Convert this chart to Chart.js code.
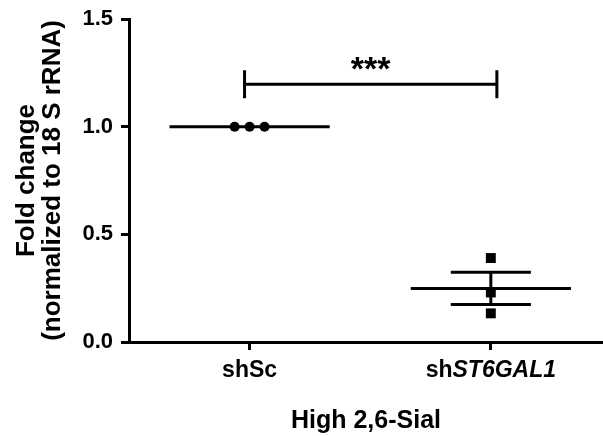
<!DOCTYPE html>
<html><head><meta charset="utf-8">
<script src="https://cdn.jsdelivr.net/npm/chart.js@4/dist/chart.umd.min.js"></script>
<style>html,body{margin:0;padding:0;background:#fff}</style>
</head><body>
<canvas id="c" width="603" height="436"></canvas>
<script>
// ---- data ----
const categories = ['shSc', 'shST6GAL1'];
const categoryPlainPart = ['shSc', 'sh'];
const categoryItalicPart = ['', 'ST6GAL1'];
const categoryPos = [1, 2];
const shScX = [0.938, 1.0, 1.062];
const shScY = [1.0, 1.0, 1.0];
const shST6X = [2, 2, 2];
const shST6Y = [0.39, 0.23, 0.133];
const groupMean = [1.0, 0.249];
const groupSEM = [0.0, 0.075];
const yTicks = [0, 0.5, 1.0, 1.5];
const bracketEnds = [0.979, 2.025];
const bracketLevel = [1.197];
const sigLabel = '***';
const yTitle = ['Fold change', '(normalized to 18 S rRNA)'];
const xTitle = 'High 2,6-Sial';

// ---- styles ----
const FONT = "'Liberation Sans', Arial, Helvetica, sans-serif";
const MEAN_HALF = 0.332, SEM_HALF = 0.166, BRACKET_CAP = 0.065;
const lineDs = (pts) => ({type:'scatter', data:pts, showLine:true, pointRadius:0, pointHoverRadius:0,
  borderColor:'#000', borderWidth:3, borderCapStyle:'butt', fill:false});

const datasets = [
  {type:'scatter', label:'shSc', data: shScX.map((x,i)=>({x, y:shScY[i]})), pointStyle:'circle',
   pointRadius:5, pointBorderWidth:0, backgroundColor:'#000', borderColor:'#000'},
  {type:'scatter', label:'shST6GAL1', data: shST6X.map((x,i)=>({x, y:shST6Y[i]})), pointStyle:'rect',
   pointRadius:7, pointBorderWidth:0, backgroundColor:'#000', borderColor:'#000'}
];
categoryPos.forEach((c,i)=>{
  const m = groupMean[i], s = groupSEM[i];
  datasets.push(lineDs([{x:c-MEAN_HALF,y:m},{x:c+MEAN_HALF,y:m}]));
  if (s > 0) {
    datasets.push(lineDs([{x:c-SEM_HALF,y:m+s},{x:c+SEM_HALF,y:m+s}]));
    datasets.push(lineDs([{x:c-SEM_HALF,y:m-s},{x:c+SEM_HALF,y:m-s}]));
    datasets.push(lineDs([{x:c,y:m-s},{x:c,y:m+s}]));
  }
});
datasets.push(lineDs([{x:bracketEnds[0],y:bracketLevel[0]},{x:bracketEnds[1],y:bracketLevel[0]}]));
bracketEnds.forEach(b=>datasets.push(lineDs([{x:b,y:bracketLevel[0]-BRACKET_CAP},{x:b,y:bracketLevel[0]+BRACKET_CAP}])));

const labelPlugin = {
  id:'labels',
  afterDraw(chart){
    const ctx = chart.ctx, xs = chart.scales.x, ys = chart.scales.y;
    ctx.save();
    ctx.fillStyle = '#000';
    ctx.textBaseline = 'alphabetic';
    ctx.textAlign = 'left';
    const base = xs.top + 35;
    categories.forEach((c,i)=>{
      const cx = xs.getPixelForValue(categoryPos[i]);
      const fPlain = `bold 23px ${FONT}`, fItal = `italic bold 23px ${FONT}`;
      ctx.font = fPlain; const w1 = ctx.measureText(categoryPlainPart[i]).width;
      ctx.font = fItal; const w2 = categoryItalicPart[i] ? ctx.measureText(categoryItalicPart[i]).width : 0;
      let x0 = cx - (w1+w2)/2;
      ctx.font = fPlain; ctx.fillText(categoryPlainPart[i], x0, base);
      if (w2) { ctx.font = fItal; ctx.fillText(categoryItalicPart[i], x0 + w1, base); }
    });
    ctx.textAlign = 'center';
    ctx.font = `bold 34px ${FONT}`;
    ctx.fillText(sigLabel, xs.getPixelForValue((bracketEnds[0]+bracketEnds[1])/2), ys.getPixelForValue(bracketLevel[0]) - 4);
    ctx.restore();
  }
};

new Chart(document.getElementById('c'), {
  type:'scatter',
  data:{datasets},
  options:{
    responsive:false, animation:false, events:[],
    layout:{autoPadding:false, padding:{top:19,left:0,right:0,bottom:0}},
    plugins:{legend:{display:false}, tooltip:{enabled:false}},
    scales:{
      x:{type:'linear', min:0.5, max:2.465,
        afterBuildTicks: s => { s.ticks = categoryPos.map(v=>({value:v})); },
        ticks:{display:false},
        grid:{drawOnChartArea:false, drawTicks:true, tickLength:8, tickWidth:3, tickColor:'#000'},
        border:{display:true, color:'#000', width:3},
        title:{display:true, text:xTitle, color:'#000', font:{family:FONT, size:25, weight:'bold'}, padding:{top:0,bottom:0}},
        afterFit: s => { s.height = 94; s.paddingLeft = 0; s.paddingRight = 0; }
      },
      y:{type:'linear', min:0, max:1.5,
        afterBuildTicks: s => { s.ticks = yTicks.map(v=>({value:v})); },
        ticks:{callback: v => Number(v).toFixed(1), color:'#000', font:{family:FONT, size:22, weight:'bold'}, padding:8},
        grid:{drawOnChartArea:false, drawTicks:true, tickLength:8, tickWidth:3, tickColor:'#000'},
        border:{display:true, color:'#000', width:3},
        title:{display:true, text:yTitle, color:'#000', font:{family:FONT, size:26, weight:'bold', lineHeight:1.0}, padding:{top:14,bottom:0}},
        afterFit: s => { s.width = 129; s.paddingTop = 0; s.paddingBottom = 0; }
      }
    }
  },
  plugins:[labelPlugin]
});
</script>
</body></html>
